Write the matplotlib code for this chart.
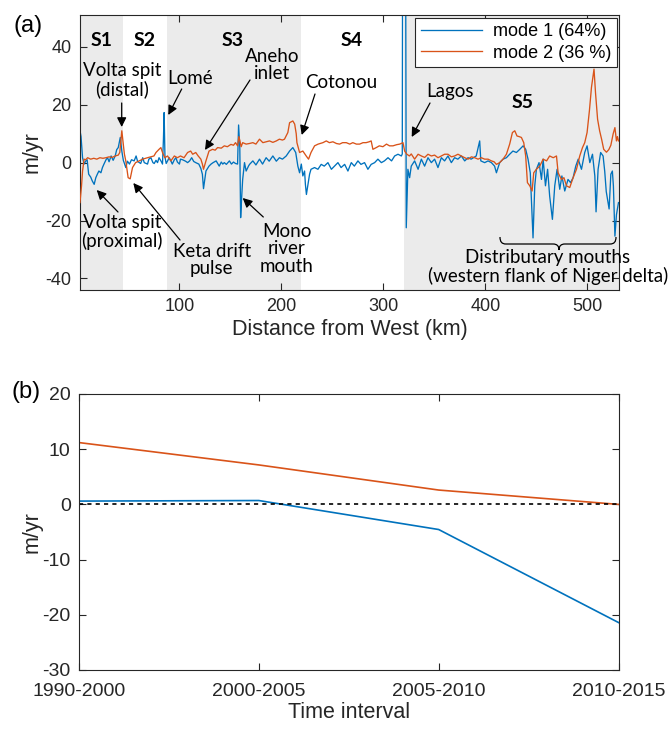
import matplotlib
matplotlib.use("Agg")
import matplotlib.pyplot as plt
from matplotlib.path import Path
from matplotlib.patches import PathPatch

# ---------------- data ----------------
dist_mode1 = [2.5, 3.5, 5, 6.5, 8, 9.5, 11, 13, 14.5, 16.4, 18, 19.5, 21, 23, 24.5, 26, 28, 29.5, 31, 33,
              35, 37, 38.5, 40, 42, 43.5, 45, 47.4, 49, 51, 53, 55.6, 57.5, 59, 62, 64, 65.5, 68.7, 70, 72,
              74, 75.3, 77, 78.5, 80, 82, 83.4, 84.3, 85, 85.8, 87, 90, 92, 93, 95, 96.5, 98, 100, 101, 103,
              106, 108, 110, 112, 114, 116, 119, 121, 122.5, 123.6, 125, 126, 129, 131, 133, 136, 139, 141, 142.5, 144,
              146, 149, 151, 153, 155, 157, 158, 159.2, 160, 161, 162, 163.8, 165.4, 168, 169, 172, 175, 178.5, 181.5, 185,
              188, 191.6, 195, 198, 201, 204.7, 208, 211.2, 214, 216.1, 217.8, 219.5, 221, 222.7, 223.5, 224.5, 226, 227.6, 229, 232.5,
              235.8, 239, 242, 245.6, 249, 252, 255.4, 258.5, 262, 265.2, 268.5, 271.5, 275, 278, 281.5, 284.8, 288, 291.4, 294.6, 298,
              301, 304.5, 308, 311, 314.3, 317.6, 318.5, 318.8, 321.8, 322.4, 324, 325.7, 327.3, 330.6, 334, 337.2, 340.4, 343.7, 347, 350.2,
              353.5, 356.8, 360, 363.3, 366.6, 369.8, 373, 376.4, 379.7, 383, 386, 391, 394.4, 395.5, 399.3, 402.6, 405.9, 409, 410.8, 414,
              417.3, 420.6, 423.8, 427, 430.4, 433.7, 437, 439.5, 441.8, 444, 446.7, 448.4, 450, 452.6, 455, 456.6, 458.9, 461, 463, 465.7,
              468, 470.3, 472.9, 475, 477.8, 481, 483.5, 486, 488.6, 491, 494.2, 497.4, 499.7, 502.4, 505, 507.3, 508.5, 510.5, 513, 515.4,
              517, 518.5, 521.3, 523, 524.5, 525.5, 527, 528.5, 530.5]
mode1 = [11, 9, 1.7, -0.5, 0.5, 1.0, -4, -5, -6.3, -7.5, -5.2, -4, -2.9, -3.5, -1.7, -0.5, 1.0, 1.7, 0.3, 2.3,
         0.8, 2.3, 4.5, 5.2, 8.7, 4.0, 0.8, -1.7, 0.5, -0.5, 1.0, 0.6, 2.3, 0.4, -0.3, 1.7, 0.0, -0.5, 1.2, 1.7,
         0.0, -0.3, 0.8, 0.0, 1.7, 0.5, -0.5, 8, 17.3, 2, -0.3, 1.7, 0.3, -0.5, 1.0, 1.7, 0.2, -0.5, 1.2, 1.0,
         0.5, 0.0, 0.6, 1.7, 0.4, 0.0, -0.5, -2.0, -4, -9.0, -5.5, -2.9, -1.2, -0.5, 0.0, 0.6, -1.2, 0.2, -0.5, 0.0,
         -0.6, 0.6, -0.5, 0.2, -0.3, -0.5, 13, 5, -19, -12, -5.8, 0, -2.9, -1.0, -0.5, 0.6, -0.8, 1.2, -0.5, 1.7,
         0.5, 2.3, 0.5, 1.7, 1.2, 2.3, 4.0, 5.2, 3.5, -1.2, -3.5, -0.5, -4.6, -2.9, -7.5, -11, -7.5, -4.0, -2.3, -1.7,
         -2.3, -0.6, -1.2, 0.0, -2.3, -1.2, 0.0, -1.7, -0.6, -2.9, 0.0, -1.2, 0.6, -0.6, 0.0, -2.3, -0.6, 0.0, 1.2, 0.0,
         0.6, 1.7, 0.6, 2.3, 2.9, 2.3, 3, 70, 70, -22.5, -2.3, -5.2, -1.2, 0.6, -2.3, 1.2, -1.2, 1.7, 0.0, 1.2,
         -1.7, 1.7, 0.6, 2.3, 0.0, 1.7, 1.2, 2.3, 0.6, 1.7, 1.2, 2.3, 7.5, 0.6, 0.0, 0.6, 0.0, -1.2, -3.5, 0.0,
         1.2, 1.7, 2.9, 4.0, 3.5, 4.6, 5.8, 4.6, 1.2, -3.5, -26, -8, -2.3, 0.0, -5.8, 1.2, -8, -2.3, -11.5, -19.6,
         -8, -2.3, -9.2, -4.6, -9.8, -5.8, -6.9, -5.2, -1.2, 1.2, -2.3, 3.5, 5.8, 0.0, 2.9, -4.6, -17, -2.3, 3.5, 2.3,
         -3, -10, -16, -4, -2.9, -8, -25.4, -18, -13.8]

dist_mode2 = [2.5, 4, 5, 6.5, 8, 10, 13, 16, 19, 22, 25, 28, 31, 34, 37, 40, 41.5, 43.5, 45, 46,
              47.4, 49.7, 51.7, 54, 57, 60.5, 64, 68.7, 72, 75, 77, 80, 81.8, 83.4, 85.7, 88.3, 91.6, 95, 98, 101,
              104.5, 108, 111, 113, 116, 118.4, 121, 122.5, 123.6, 126, 129, 132.5, 135, 137.4, 141, 144, 147, 150.5, 153, 155,
              157, 158.3, 159.3, 160.5, 162, 165.4, 168.5, 172, 175, 178.5, 181.8, 185, 188.3, 191.6, 195, 198, 201, 203, 206.3, 208,
              211.2, 213, 214.5, 215.2, 217.8, 221, 224.3, 226.6, 229, 232.5, 236, 240.7, 244, 247, 250.5, 254, 257, 260, 263.6, 267,
              270, 273.5, 276.7, 280, 283, 286, 288, 289.7, 293, 296, 299.5, 303, 306, 309.4, 313, 316, 319.2, 320.8, 323, 325.5,
              327.3, 330.6, 334, 337.2, 340.5, 343.7, 347, 350.2, 353.5, 356.8, 360, 363.3, 366.6, 369.8, 373.1, 376.4, 379.7, 383, 386.3, 389.5,
              392.8, 396, 399.3, 402.6, 405.9, 408.5, 410.8, 414, 417.3, 420.6, 423.8, 426.5, 428.8, 431, 433, 435.3, 437.6, 439.5, 441.2, 443.5,
              445.8, 447.4, 450, 453.3, 456.6, 460, 463, 466.5, 469.7, 471.3, 474.6, 477, 479.5, 482.7, 486, 489.3, 492.5, 495.2, 497.4, 499.7,
              502, 504, 506.5, 508, 510, 512, 514, 516, 518.7, 521, 523, 525.3, 527, 528.5, 529.5, 530.5]
mode2 = [-13.8, -8, -2.9, 1.2, 1.0, 1.7, 1.2, 1.5, 1.2, 1.7, 1.5, 1.7, 2.0, 1.8, 2.3, 2.6, 3.5, 11, 6.3, 3,
         0.6, -5.2, -5.6, -1.7, 0, 0.6, 1.2, 1.7, 2.0, 2.3, 3.5, 4.6, 5.2, 3.5, 1.7, 2.3, 0.6, 2.3, 1.7, 2.3,
         1.7, 3.5, 4.0, 2.9, 3.5, 2.3, 1.2, -0.5, -2.3, 0.6, 4.0, 4.6, 4.3, 5.2, 5.0, 5.8, 5.5, 6.3, 6.0, 6.9,
         5.8, 9, 7.5, 5.5, 6.9, 6.4, 6.6, 6.9, 6.4, 8.1, 6.9, 7.2, 7.5, 7.0, 7.5, 8.1, 7.8, 8.1, 10.4, 13.8,
         14.4, 13.3, 10, 6.9, 3.5, 4.0, 2.3, 1.2, 3.5, 5.8, 6.4, 6.9, 7.5, 6.9, 7.2, 6.6, 6.4, 6.9, 6.9, 6.4,
         6.9, 6.4, 6.4, 6.9, 6.9, 7.2, 7.5, 4.6, 5.2, 5.8, 5.5, 6.4, 5.8, 5.8, 6.2, 6.4, 6.9, 4.0, 2.9, 2.3,
         3.0, 1.2, 2.9, 2.3, 1.8, 2.9, 2.3, 2.6, 1.7, 2.3, 2.9, 2.9, 2.0, 2.3, 2.9, 2.3, 1.7, 1.2, 2.0, 1.7,
         1.2, 1.7, 1.2, 1.2, 0.6, 0.3, -0.6, 0.0, 1.2, 2.9, 6.4, 10.4, 11.0, 9.2, 9.0, 8.7, 6.9, 2.3, -6.9, -8.0,
         -9.8, -3.5, -2.3, -1.2, 1.2, 0.6, 2.3, 1.7, 2.3, -3.5, -5.8, -5.2, -8.0, -8.6, -5.2, -2.3, 2.3, 5.2, 6.9, 10.4,
         18, 26, 32.3, 24, 15, 11, 8, 4.6, 3.6, 4.5, 6, 10, 12.1, 7.5, 9, 7.5]

segment_names = ["S1", "S2", "S3", "S4", "S5"]
segment_edges = [2.5, 44.4, 88.0, 219.4, 320.0, 531.0]
segment_shaded = [True, False, True, False, True]

intervals = ["1990-2000", "2000-2005", "2005-2010", "2010-2015"]
trend_mode1 = [0.6, 0.7, -4.55, -21.4]
trend_mode2 = [11.2, 7.15, 2.6, 0.0]

legend_labels = ["mode 1 (64%)", "mode 2 (36 %)"]

# ---------------- style ----------------
BLUE = "#0072BD"
ORANGE = "#D95319"
AXC = "#262626"
W, H = 671, 729

plt.rcParams["font.family"] = ["Liberation Sans", "DejaVu Sans"]
plt.rcParams["axes.unicode_minus"] = False
fig = plt.figure(figsize=(W / 100, H / 100), dpi=100)


def fx(px):
    return px / W


def fy(py):
    return 1 - py / H


def style_axes(ax):
    for s in ax.spines.values():
        s.set_color(AXC)
        s.set_linewidth(0.8)
    ax.tick_params(direction="in", top=True, right=True, length=5, width=0.8,
                   colors=AXC, labelsize=13, pad=6)


# ---------------- panel (a) ----------------
axa = fig.add_axes([fx(80), fy(290), fx(619) - fx(80), fy(15) - fy(290)])
for i, name in enumerate(segment_names):
    if segment_shaded[i]:
        axa.axvspan(segment_edges[i], segment_edges[i + 1], color="#ebebeb", lw=0, zorder=0)
l1, = axa.plot(dist_mode1, mode1, color=BLUE, lw=0.95, zorder=2)
l2, = axa.plot(dist_mode2, mode2, color=ORANGE, lw=0.95, zorder=3)
axa.set_xlim(2.5, 531)
axa.set_ylim(-44, 51)
axa.set_xticks([100, 200, 300, 400, 500])
axa.set_yticks([-40, -20, 0, 20, 40])
style_axes(axa)
axa.set_xlabel("Distance from West (km)", fontsize=15.5, color=AXC, labelpad=3)
axa.set_ylabel("m/yr", fontsize=15.5, color=AXC, labelpad=2)
leg = axa.legend([l1, l2], legend_labels, loc="upper right", bbox_to_anchor=(0.996, 0.99),
                 borderaxespad=0, fontsize=13, handlelength=3.4, fancybox=False,
                 framealpha=1, edgecolor=AXC, borderpad=0.3, labelspacing=0.25, handletextpad=0.6)
leg.get_frame().set_linewidth(0.8)

ANN = ["Lato", "DejaVu Sans"]
# segment labels
for name, px in zip(segment_names, [101.7, 144.3, 232.7, 351.7, 522.7]):
    py = 40 if name != "S5" else 102
    fig.text(fx(px), fy(py), name, ha="center", va="center", fontsize=14,
             fontweight="bold", family=ANN)

fig.text(fx(28), fy(26), "(a)", ha="center", va="center", fontsize=17)
fig.text(fx(26), fy(392), "(b)", ha="center", va="center", fontsize=17)

ap = dict(arrowstyle="-|>", color="k", lw=0.9, mutation_scale=14, shrinkA=0, shrinkB=0)


def note(text, tx, ty, ax_, ay_, tail=None):
    fig.text(fx(tx), fy(ty), text, ha="center", va="center", fontsize=13.5,
             family=ANN, linespacing=1.05)
    if tail is not None:
        fig.add_artist(matplotlib.patches.FancyArrowPatch(
            (fx(tail[0]), fy(tail[1])), (fx(ax_), fy(ay_)),
            transform=fig.transFigure, **ap))


note("Volta spit\n(distal)", 121.7, 80, 121.7, 127, tail=(121.7, 103))
note("Lomé", 190, 78, 168.3, 115, tail=(181.7, 89))
note("Aneho\ninlet", 271.7, 65, 205, 150, tail=(250, 80))
note("Cotonou", 341, 83, 301.7, 135, tail=(315, 94))
note("Lagos", 450, 92, 411.7, 137, tail=(430, 103))
note("Volta spit\n(proximal)", 121.7, 232, 96.7, 190, tail=(118, 212))
note("Keta drift\npulse", 211.7, 260, 133.3, 183, tail=(180, 240))
note("Mono\nriver\nmouth", 286.7, 249, 242.7, 198, tail=(263.3, 217))
note("Distributary mouths\n(western flank of Niger delta)", 548, 267, 0, 0, tail=None)

# curly brace under the S5 distributary section (figure pixel coords)
bx0, bx1, bxc = 500, 616, 559
by0, by1 = 237, 244
verts = [(bx0, by0), (bx0, by1 - 2), (bx0 + 2, by1), (bx0 + 6, by1),
         (bxc - 6, by1), (bxc - 2, by1), (bxc, by1 + 2), (bxc, by1 + 6),
         (bxc, by1 + 2), (bxc + 2, by1), (bxc + 6, by1),
         (bx1 - 6, by1), (bx1 - 2, by1), (bx1, by1 - 2), (bx1, by0)]
codes = [Path.MOVETO, Path.CURVE4, Path.CURVE4, Path.CURVE4,
         Path.LINETO, Path.CURVE4, Path.CURVE4, Path.CURVE4,
         Path.CURVE4, Path.CURVE4, Path.CURVE4,
         Path.LINETO, Path.CURVE4, Path.CURVE4, Path.CURVE4]
brace = Path([(fx(x), fy(y)) for x, y in verts], codes)
fig.add_artist(PathPatch(brace, fill=False, lw=0.9, color="k", transform=fig.transFigure))

# ---------------- panel (b) ----------------
axb = fig.add_axes([fx(79), fy(670), fx(618.5) - fx(79), fy(394) - fy(670)])
xb = list(range(1, len(intervals) + 1))
axb.plot(xb, trend_mode2, color=ORANGE, lw=1.2)
axb.plot(xb, trend_mode1, color=BLUE, lw=1.2)
axb.axhline(0, color="k", lw=1.2, linestyle=(0, (2.5, 2.5)))
axb.set_xlim(1, 4)
axb.set_ylim(-30, 20)
axb.set_xticks(xb)
axb.set_xticklabels(intervals)
axb.set_yticks([-30, -20, -10, 0, 10, 20])
style_axes(axb)
axb.tick_params(labelsize=14)
axb.tick_params(axis="x", pad=9)
axb.set_xlabel("Time interval", fontsize=15.5, color=AXC, labelpad=2)
axb.set_ylabel("m/yr", fontsize=15.5, color=AXC, labelpad=0)

fig.savefig("out.png", dpi=100)
